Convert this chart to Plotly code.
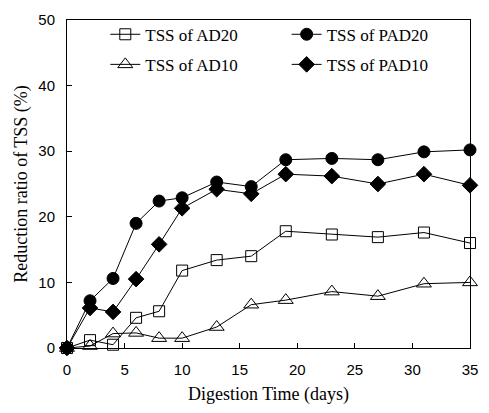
import plotly.graph_objects as go

days = [0, 2, 4, 6, 8, 10, 13, 16, 19, 23, 27, 31, 35]
ad20 = [0, 1.2, 0.5, 4.6, 5.6, 11.8, 13.4, 14.0, 17.8, 17.3, 16.9, 17.6, 16.0]
pad20 = [0, 7.2, 10.6, 19.0, 22.4, 22.9, 25.3, 24.6, 28.7, 28.9, 28.7, 29.9, 30.2]
ad10 = [0, 0.3, 2.2, 2.3, 1.5, 1.5, 3.2, 6.6, 7.3, 8.6, 7.9, 9.8, 10.0]
pad10 = [0, 6.1, 5.5, 10.5, 15.8, 21.3, 24.2, 23.5, 26.5, 26.2, 25.0, 26.5, 24.8]

series = [
    ("TSS of AD20", ad20, "square-open", 11, "legend"),
    ("TSS of PAD20", pad20, "circle", 12, "legend2"),
    ("TSS of AD10", ad10, "triangle-up-open", 13, "legend"),
    ("TSS of PAD10", pad10, "diamond", 12, "legend2"),
]

fig = go.Figure()
for name, vals, sym, sz, leg in series:
    fig.add_trace(go.Scatter(
        x=days, y=vals, name=name, mode="lines+markers",
        line=dict(color="black", width=1),
        marker=dict(symbol=sym, size=sz, color="black",
                    line=dict(color="black", width=1)),
        cliponaxis=False, legend=leg, legendgroup=name,
    ))

serif = "Liberation Serif"
sans = "Liberation Sans"

legend_common = dict(
    yanchor="top", xanchor="left", y=1.01,
    font=dict(family=serif, size=17, color="black"),
    bgcolor="rgba(0,0,0,0)", traceorder="grouped", tracegroupgap=5,
)

fig.update_layout(
    width=489, height=413,
    margin=dict(l=67, r=11, t=12, b=65),
    paper_bgcolor="white", plot_bgcolor="white",
    showlegend=True,
    legend=dict(x=0.095, **legend_common),
    legend2=dict(x=0.545, **legend_common),
    xaxis=dict(
        range=[0, 35], tickvals=[0, 5, 10, 15, 20, 25, 30, 35],
        ticks="inside", ticklen=5, tickcolor="black",
        showline=True, linecolor="black", linewidth=1, mirror=True,
        showgrid=False, zeroline=False, ticklabelstandoff=8,
        tickfont=dict(family=sans, size=15, color="black"),
        title=dict(text="Digestion Time (days)",
                   font=dict(family=serif, size=18, color="black"), standoff=10),
    ),
    yaxis=dict(
        range=[0, 50], tickvals=[0, 10, 20, 30, 40, 50],
        ticks="inside", ticklen=5, tickcolor="black",
        showline=True, linecolor="black", linewidth=1, mirror=True,
        showgrid=False, zeroline=False, ticklabelstandoff=8,
        tickfont=dict(family=sans, size=15, color="black"),
        title=dict(text="Reduction ratio of TSS (%)",
                   font=dict(family=serif, size=18, color="black"), standoff=6),
    ),
)

fig.write_html("out.html")
